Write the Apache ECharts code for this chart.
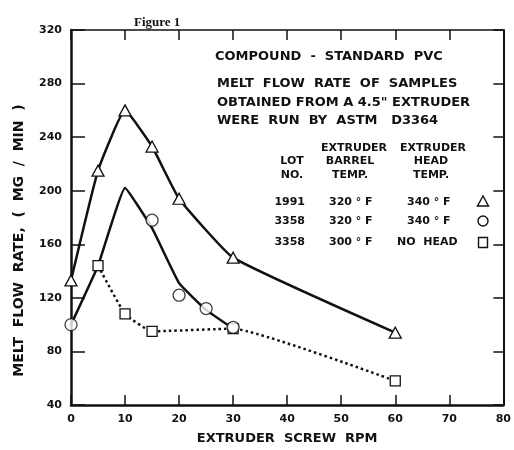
<!DOCTYPE html>
<html>
<head>
<meta charset="utf-8">
<script src="https://cdn.jsdelivr.net/npm/echarts@6/dist/echarts.min.js"></script>
<style>
html,body{margin:0;padding:0;background:#fff;}
#chart{width:514px;height:450px;}
</style>
</head>
<body>
<div id="chart"></div>
<script>
// X ticks / Y ticks
var xTicks = [0, 10, 20, 30, 40, 50, 60, 70, 80];
var yTicks = [40, 80, 120, 160, 200, 240, 280, 320];

// Lot 1991, 320 F barrel, 340 F head (triangles)
var triX = [0, 5, 10, 15, 20, 30, 60];
var triY = [133, 215, 260, 233, 194, 150, 94];

// Lot 3358, 320 F barrel, 340 F head (circles): drawn curve and measured points
var circCurveX = [0, 5, 10, 15, 20, 25, 30];
var circCurveY = [100, 144, 202, 172, 131, 111, 97];
var circX = [0, 15, 20, 25, 30];
var circY = [100, 178, 122, 112, 98];

// Lot 3358, 300 F barrel, no head (squares, dotted)
var sqX = [5, 10, 15, 30, 60];
var sqY = [144, 108, 95, 97, 58];

function pairs(xs, ys){ return xs.map(function(x,i){ return [x, ys[i]]; }); }

var INK = '#111';
var FONT = 'DejaVu Sans';

var chart = echarts.init(document.getElementById('chart'), null, {renderer:'canvas'});

function txt(text, x, y, size, align){
  return {type:'text', x:x, y:y, style:{text:text, fill:INK, font:'bold '+size+'px "'+FONT+'"', textAlign:align||'left', textVerticalAlign:'middle'}, z:50};
}

var option = {
  backgroundColor:'#fff',
  animation:false,
  title:{text:'Figure 1', left:129, top:11, textStyle:{fontFamily:'Liberation Serif', fontWeight:'bold', fontSize:13, color:INK}},
  grid:{left:71, right:8, top:30, bottom:37},
  xAxis:[
    {type:'value', min:xTicks[0], max:xTicks[xTicks.length-1], interval:10, position:'bottom',
     axisLine:{show:true, onZero:false, lineStyle:{color:INK, width:2.5}},
     axisTick:{show:true, inside:true, length:10, lineStyle:{color:INK, width:1.5}},
     axisLabel:{color:INK, fontFamily:FONT, fontWeight:'bold', fontSize:11, margin:9},
     splitLine:{show:false},
     name:'EXTRUDER  SCREW  RPM', nameLocation:'middle', nameGap:27,
     nameTextStyle:{color:INK, fontFamily:FONT, fontWeight:'bold', fontSize:13}},
    {type:'value', min:xTicks[0], max:xTicks[xTicks.length-1], interval:10, position:'top',
     axisLine:{show:true, onZero:false, lineStyle:{color:INK, width:1.5}},
     axisTick:{show:true, inside:true, length:10, lineStyle:{color:INK, width:1.5}},
     axisLabel:{show:false}, splitLine:{show:false}}
  ],
  yAxis:[
    {type:'value', min:yTicks[0], max:yTicks[yTicks.length-1], interval:40, position:'left',
     axisLine:{show:true, onZero:false, lineStyle:{color:INK, width:2.5}},
     axisTick:{show:true, inside:true, length:14, lineStyle:{color:INK, width:1.5}},
     axisLabel:{color:INK, fontFamily:FONT, fontWeight:'bold', fontSize:11, margin:9},
     splitLine:{show:false},
     name:'MELT  FLOW  RATE,  (  MG  /  MIN  )', nameLocation:'middle', nameGap:45,
     nameTextStyle:{color:INK, fontFamily:FONT, fontWeight:'bold', fontSize:14, padding:[0,46,0,0]}},
    {type:'value', min:yTicks[0], max:yTicks[yTicks.length-1], interval:40, position:'right',
     axisLine:{show:true, onZero:false, lineStyle:{color:INK, width:2}},
     axisTick:{show:true, inside:true, length:10, lineStyle:{color:INK, width:1.5}},
     axisLabel:{show:false}, splitLine:{show:false}}
  ],
  graphic:[
    txt('COMPOUND  -  STANDARD  PVC', 215, 57, 13),
    txt('MELT  FLOW  RATE  OF  SAMPLES', 217, 84, 13),
    txt('OBTAINED FROM A 4.5" EXTRUDER', 217, 103, 13),
    txt('WERE  RUN  BY  ASTM   D3364', 217, 121, 13),
    txt('EXTRUDER', 354, 148, 11, 'center'),
    txt('EXTRUDER', 433, 148, 11, 'center'),
    txt('LOT', 292, 161, 11, 'center'),
    txt('BARREL', 350, 161, 11, 'center'),
    txt('HEAD', 431, 161, 11, 'center'),
    txt('NO.', 292, 175, 11, 'center'),
    txt('TEMP.', 350, 175, 11, 'center'),
    txt('TEMP.', 431, 175, 11, 'center'),
    txt('1991', 305, 202, 11, 'right'),
    txt('3358', 305, 221, 11, 'right'),
    txt('3358', 305, 242, 11, 'right'),
    txt('320 ° F', 329, 202, 11),
    txt('320 ° F', 329, 221, 11),
    txt('300 ° F', 329, 242, 11),
    txt('340 ° F', 407, 202, 11),
    txt('340 ° F', 407, 221, 11),
    txt('NO  HEAD', 397, 242, 11),
    {type:'polygon', z:50, shape:{points:[[483,196],[477.5,206],[488.5,206]]}, style:{fill:'#fff', stroke:INK, lineWidth:1.4}},
    {type:'circle', z:50, shape:{cx:483, cy:221, r:5}, style:{fill:'#fff', stroke:INK, lineWidth:1.4}},
    {type:'rect', z:50, shape:{x:478.5, y:237.5, width:9, height:10}, style:{fill:'#fff', stroke:INK, lineWidth:1.4}}
  ],
  series:[
    {type:'line', name:'1991', data:pairs(triX, triY), smooth:0.12, z:3,
     lineStyle:{color:INK, width:2.5}, symbol:'triangle', symbolSize:[12,11], showAllSymbol:true,
     itemStyle:{color:'#fff', borderColor:INK, borderWidth:1.3}},
    {type:'line', name:'3358 curve', data:pairs(circCurveX, circCurveY), smooth:0.1, z:2,
     lineStyle:{color:INK, width:2.5}, symbol:'none'},
    {type:'scatter', name:'3358 320F', data:pairs(circX, circY), z:5,
     symbol:'circle', symbolSize:12,
     itemStyle:{color:'#fff', borderColor:INK, borderWidth:1.3}},
    {type:'line', name:'3358 300F', data:pairs(sqX, sqY), smooth:0.12, z:4,
     lineStyle:{color:INK, width:2.5, type:[2.5,3]}, symbol:'rect', symbolSize:[10,10], showAllSymbol:true,
     itemStyle:{color:'#fff', borderColor:INK, borderWidth:1.3}}
  ]
};
chart.setOption(option);
</script>
</body>
</html>
